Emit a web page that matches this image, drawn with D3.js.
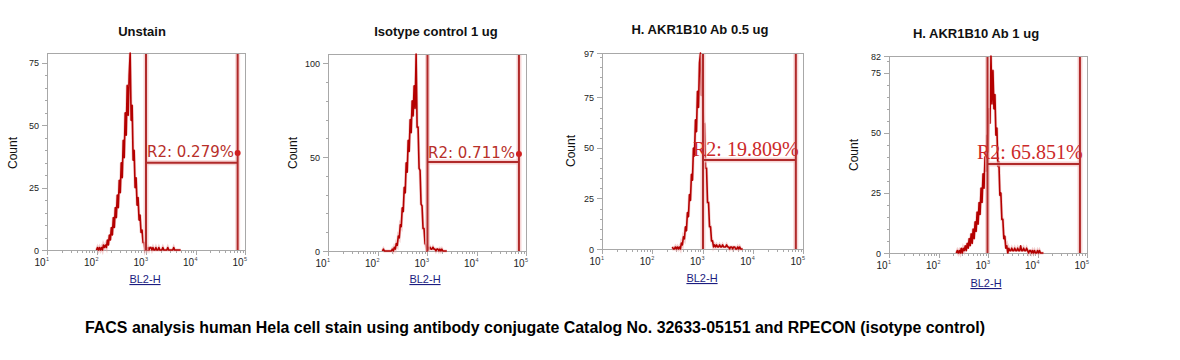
<!DOCTYPE html>
<html><head><meta charset="utf-8">
<script src="https://cdn.jsdelivr.net/npm/d3@7"></script>
<style>html,body{margin:0;padding:0;background:#fff}svg{display:block}</style>
</head><body><svg id="c" width="1180" height="360"></svg>
<script>
// ---------------- DATA ----------------
const titles = ["Unstain", "Isotype control 1 ug", "H. AKR1B10 Ab 0.5 ug", "H. AKR1B10 Ab 1 ug"];
const r2Labels = ["R2: 0.279%", "R2: 0.711%", "R2: 19.809%", "R2: 65.851%"];
const yMax = [79, 105, 97, 82];
const yTickValues = [[0, 25, 50, 75], [0, 50, 100], [0, 25, 50, 75, 97], [0, 25, 50, 75, 82]];
const yMinorStep = [5, 10, 5, 5];
const xTickExponents = [1, 2, 3, 4, 5];
const gateLeft = [1000, 1023, 1023, 977];
const gateRight = [71000, 72000, 72000, 72000];
const gateCount = [35, 47.5, 44, 37];
const binStartLog = [2.00, 2.10, 2.40, 2.36];
const binStepLog = 0.02;
const counts1 = [0,1,0,1,0,1,0,2,1,2,
  1,4,2,6,4,9,6,13,9,17,
  13,22,17,28,23,35,29,44,37,55,
  46,66,54,70,79,52,58,36,40,25,
  29,18,21,12,14,7,8,3,3,0,
  1,0,1,0,1,1,0,1,0,0,
  1,0,0,1,0,0,0,1,0,0,
  0,0,1,0,0,0,0,0,1,0,
  0,0,0,0,0,0];
const counts2 = [0,1,0,0,0,0,0,0,0,0,
  1,0,2,1,4,3,8,7,14,13,
  23,21,34,31,47,42,59,53,70,63,
  80,72,88,76,105,66,66,44,43,25,
  24,12,12,4,3,0,2,1,2,1,
  1,2,1,1,0,1,1,0,1,0,
  1,0,0,0,0,0];
const counts3 = [1,0,0,1,0,1,0,1,0,3,
  2,6,5,11,9,18,16,27,24,37,
  34,50,46,64,58,78,70,92,97,76,
  82,62,62,40,40,23,23,11,11,4,
  4,1,2,1,2,1,1,2,1,1,
  2,1,1,1,2,1,1,0,1,1,
  0,1,1,0,0,1,0,1,0,0,0];
const counts4 = [0,1,0,1,0,2,0,2,1,3,
  1,4,2,6,3,8,4,10,6,13,
  9,17,12,21,16,27,21,33,27,40,
  34,49,42,60,54,82,62,76,60,66,
  49,52,36,38,24,25,14,14,6,7,
  2,3,0,2,1,1,2,1,1,2,
  1,1,2,1,1,3,1,1,2,1,
  1,2,1,0,1,1,0,1,0,1,
  0,0,1,0,1,0,0,0,0];
const allCounts = [counts1, counts2, counts3, counts4];
const xAxisLabel = "BL2-H";
const yAxisLabel = "Count";
const caption = "FACS analysis human Hela cell stain using antibody conjugate Catalog No. 32633-05151 and RPECON (isotype control)";

// ---------------- LAYOUT ----------------
const layout = [
  {left:47, right:245, top:53, bottom:250, titleX:142, titleY:36, countX:17, countY:153, blX:145, blY:283, labelX:147, labelY:157, dot:true, serif:false},
  {left:328, right:526, top:54, bottom:251, titleX:436, titleY:36, countX:297, countY:153, blX:425, blY:283, labelX:428, labelY:158, dot:true, serif:false},
  {left:602, right:803, top:53, bottom:249, titleX:700, titleY:34, countX:575, countY:151, blX:702, blY:282, labelX:693, labelY:156, dot:false, serif:true},
  {left:889, right:1087, top:56, bottom:253, titleX:976, titleY:38, countX:858, countY:155, blX:986, blY:287, labelX:977, labelY:159, dot:false, serif:true}
];

const svg = d3.select("#c");
const axisCol = "#a8a8a8";
const histCol = "#b40000";
const gateCol = "#b02a2a";

layout.forEach((L, p) => {
  const g = svg.append("g");
  const x = d3.scaleLog().domain([10, 1e5]).range([L.left, L.right]);
  const y = d3.scaleLinear().domain([0, yMax[p]]).range([L.bottom, L.top]);

  g.append("text").attr("x", L.titleX).attr("y", L.titleY).attr("text-anchor", "middle")
    .attr("font-family", "Liberation Sans, Arial, sans-serif").attr("font-weight", "bold")
    .attr("font-size", 13).attr("fill", "#111").text(titles[p]);

  g.append("rect").attr("x", L.left + 0.5).attr("y", L.top + 0.5)
    .attr("width", L.right - L.left).attr("height", L.bottom - L.top)
    .attr("fill", "none").attr("stroke", axisCol).attr("stroke-width", 1);

  const yMinor = d3.range(0, yMax[p] + 0.001, yMinorStep[p]);
  g.selectAll(".ymn").data(yMinor).join("line")
    .attr("x1", L.left - 2).attr("x2", L.left)
    .attr("y1", d => Math.round(y(d)) + 0.5).attr("y2", d => Math.round(y(d)) + 0.5)
    .attr("stroke", axisCol);
  g.selectAll(".ymj").data(yTickValues[p]).join("line")
    .attr("x1", L.left - 5).attr("x2", L.left)
    .attr("y1", d => Math.round(y(d)) + 0.5).attr("y2", d => Math.round(y(d)) + 0.5)
    .attr("stroke", axisCol);
  g.selectAll(".ytl").data(yTickValues[p]).join("text")
    .attr("x", L.left - 8).attr("y", d => y(d) + 3.5).attr("text-anchor", "end")
    .attr("font-family", "Liberation Sans, Arial, sans-serif").attr("font-size", 9)
    .attr("fill", "#222").text(d => d);

  const xMinor = [];
  for (let e = 1; e < 5; e++) for (let m = 2; m <= 9; m++) xMinor.push(m * Math.pow(10, e));
  g.selectAll(".xmn").data(xMinor).join("line")
    .attr("x1", d => Math.round(x(d)) + 0.5).attr("x2", d => Math.round(x(d)) + 0.5)
    .attr("y1", L.bottom).attr("y2", L.bottom + 3).attr("stroke", axisCol);
  g.selectAll(".xmj").data(xTickExponents).join("line")
    .attr("x1", d => Math.round(x(Math.pow(10, d))) + 0.5).attr("x2", d => Math.round(x(Math.pow(10, d))) + 0.5)
    .attr("y1", L.bottom).attr("y2", L.bottom + 5).attr("stroke", axisCol);
  const xl = g.selectAll(".xtl").data(xTickExponents).join("g");
  xl.append("text").attr("x", d => x(Math.pow(10, d)) - 1.5).attr("y", L.bottom + 16)
    .attr("text-anchor", "end").attr("font-family", "Liberation Sans, Arial, sans-serif")
    .attr("font-size", 10).attr("fill", "#222").text("10");
  xl.append("text").attr("x", d => x(Math.pow(10, d)) - 1).attr("y", L.bottom + 11)
    .attr("text-anchor", "start").attr("font-family", "Liberation Sans, Arial, sans-serif")
    .attr("font-size", 5.5).attr("fill", "#444").text(d => d);

  g.append("text").attr("transform", `translate(${L.countX},${L.countY}) rotate(-90)`)
    .attr("text-anchor", "middle").attr("font-family", "Liberation Sans, Arial, sans-serif")
    .attr("font-size", 12).attr("fill", "#111").text(yAxisLabel);
  g.append("text").attr("x", L.blX).attr("y", L.blY).attr("text-anchor", "middle")
    .attr("font-family", "Liberation Sans, Arial, sans-serif").attr("font-size", 11)
    .attr("fill", "#1c1c80").attr("text-decoration", "underline").text(xAxisLabel);

  const data = allCounts[p].map((c, i) => ({v: Math.pow(10, binStartLog[p] + i * binStepLog), c}));
  const line = d3.line().x(d => x(d.v)).y(d => y(d.c));
  g.append("path").datum(data).attr("d", line).attr("fill", "none")
    .attr("stroke", "#e8a0a0").attr("stroke-width", 3).attr("stroke-opacity", 0.5);
  g.append("path").datum(data).attr("d", line).attr("fill", "none")
    .attr("stroke", histCol).attr("stroke-width", 1.6).attr("stroke-linejoin", "round");

  const gl = x(gateLeft[p]), gr = x(gateRight[p]), gy = y(gateCount[p]);
  const gateLines = [
    [gl, L.top + 1, gl, L.bottom],
    [gr, L.top + 1, gr, L.bottom],
    [gl, gy, gr, gy]
  ];
  gateLines.forEach(s => {
    g.append("line").attr("x1", s[0]).attr("y1", s[1]).attr("x2", s[2]).attr("y2", s[3])
      .attr("stroke", "#f3c4c4").attr("stroke-width", 5).attr("stroke-opacity", 0.7);
  });
  gateLines.forEach(s => {
    g.append("line").attr("x1", s[0]).attr("y1", s[1]).attr("x2", s[2]).attr("y2", s[3])
      .attr("stroke", gateCol).attr("stroke-width", 2);
  });
  g.append("text").attr("x", L.labelX).attr("y", L.labelY)
    .attr("font-family", L.serif ? "Liberation Serif, Times New Roman, serif" : "DejaVu Sans, Verdana, sans-serif")
    .attr("font-size", L.serif ? 20 : 15).attr("fill", L.serif ? "#cc2a2a" : "#b8302a")
    .text(r2Labels[p]);
  if (L.dot) {
    g.append("circle").attr("cx", gr).attr("cy", L.labelY - 4).attr("r", 3).attr("fill", "#d02020");
  }
});

svg.append("text").attr("x", 85).attr("y", 333).attr("font-family", "Liberation Sans, Arial, sans-serif")
  .attr("font-weight", "bold").attr("font-size", 16).attr("fill", "#000")
  .attr("textLength", 900).attr("lengthAdjust", "spacingAndGlyphs").text(caption);
</script>
</body></html>
